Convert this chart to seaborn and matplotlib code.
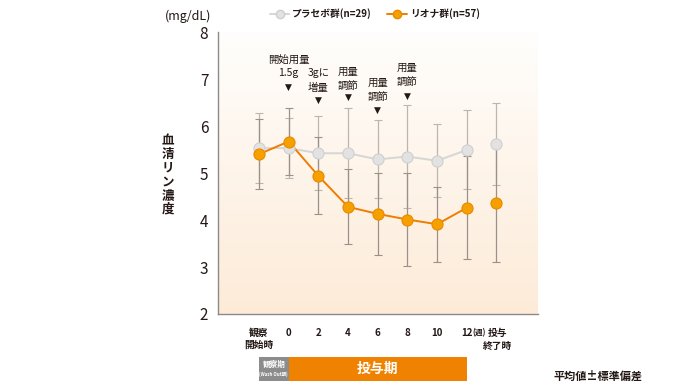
import numpy as np
import pandas as pd
import matplotlib
matplotlib.use("Agg")
from matplotlib import pyplot as plt
from matplotlib.patches import Rectangle
import matplotlib.transforms as mtransforms
import seaborn as sns

# data
positions = [0, 1, 2, 3, 4, 5, 6, 7, 8]
tick_labels = ["観察\n開始時", "0", "2", "4", "6", "8", "10", "12", "投与\n終了時"]
placebo_mean = [5.53, 5.53, 5.42, 5.42, 5.29, 5.35, 5.26, 5.49, 5.61]
placebo_sd = [0.74, 0.64, 0.79, 0.96, 0.83, 1.09, 0.78, 0.84, 0.87]
riona_mean = [5.40, 5.67, 4.94, 4.28, 4.13, 4.01, 3.91, 4.26, 4.36]
riona_sd = [0.75, 0.72, 0.82, 0.80, 0.88, 0.98, 0.80, 1.10, 1.25]
groups = ["プラセボ群(n=29)", "リオナ群(n=57)"]

dose_notes = [
    (1, ["開始用量", "1.5g"], [7.38, 7.13], 6.83),
    (2, ["3gに", "増量"], [7.13, 6.81], 6.55),
    (3, ["用量", "調節"], [7.15, 6.85], 6.60),
    (4, ["用量", "調節"], [6.91, 6.62], 6.34),
    (5, ["用量", "調節"], [7.23, 6.94], 6.64),
]

df = pd.DataFrame({
    "pos": positions * 2,
    "mean": placebo_mean + riona_mean,
    "sd": placebo_sd + riona_sd,
    "group": [groups[0]] * 9 + [groups[1]] * 9,
})

sns.set_style("white")
plt.rcParams["font.family"] = ["Noto Sans CJK JP", "DejaVu Sans"]
txt = "#231815"

fig = plt.figure(figsize=(7, 3.91), dpi=100)
ax = fig.add_axes([218 / 700, 1 - 314 / 391, 320 / 700, 282 / 391])

xlim = (-1.38, 9.40)
ylim = (2, 8)
grad = np.linspace(0, 1, 256).reshape(-1, 1)
cmap = matplotlib.colors.LinearSegmentedColormap.from_list("bg", ["#fdebd8", "#fffefc"])
ax.imshow(grad, aspect="auto", cmap=cmap, origin="lower",
          extent=[xlim[0], xlim[1], ylim[0], ylim[1]], zorder=0)

palette = {groups[0]: "#d6d6d6", groups[1]: "#ee7d00"}
face = {groups[0]: "#e2e2e2", groups[1]: "#f6a000"}
edge = {groups[0]: "#cfcfcf", groups[1]: "#e88a00"}
ebar = {groups[0]: "#bdb5ae", groups[1]: "#9c918a"}

for g in groups:
    d = df[df.group == g]
    ax.errorbar(d["pos"], d["mean"], yerr=d["sd"], fmt="none", ecolor=ebar[g],
                elinewidth=0.9, capsize=3, capthick=0.8, zorder=2)

main = df[df.pos <= 7]
sns.lineplot(data=main, x="pos", y="mean", hue="group", palette=palette,
             linewidth=1.4, legend=False, ax=ax, zorder=3)
for g, z in zip(groups, [4, 5]):
    d = df[df.group == g]
    ax.plot(d["pos"], d["mean"], linestyle="none", marker="o", markersize=8,
            markerfacecolor=face[g], markeredgecolor=edge[g], markeredgewidth=0.8,
            zorder=z)

# legend handles
for g in groups:
    ax.plot([], [], color=palette[g], linewidth=1.4, marker="o", markersize=6,
            markerfacecolor=face[g], markeredgecolor=edge[g], label=g)
leg = ax.legend(loc="lower center", bbox_to_anchor=(0.49, 1.015), ncol=2, frameon=False,
                fontsize=7, handlelength=2.0, handletextpad=0.3, columnspacing=1.6,
                labelcolor=txt)
for t in leg.get_texts():
    t.set_fontweight("bold")

ax.set_xlim(*xlim)
ax.set_ylim(*ylim)
ax.set_xticks(positions)
# last label is drawn by hand (two lines split) so "(週)" can sit beside it
ax.set_xticklabels(tick_labels[:-1] + [""], fontsize=7, color=txt, fontweight="bold",
                   linespacing=1.2)
ax.set_yticks([2, 3, 4, 5, 6, 7, 8])
ax.set_yticklabels(["2", "3", "4", "5", "6", "7", "8"], fontsize=11, color=txt)
ax.tick_params(axis="x", direction="out", length=4, width=0.8, color="#888888", pad=6)
ax.tick_params(axis="y", direction="out", length=5, width=0.8, color="#888888", pad=2)
ax.set_xlabel("")
ax.set_ylabel("")
for s in ["top", "right"]:
    ax.spines[s].set_visible(False)
for s in ["left", "bottom"]:
    ax.spines[s].set_color("#8a8a8a")
    ax.spines[s].set_linewidth(1.0)

tr = mtransforms.blended_transform_factory(ax.transData, ax.transAxes)
last_top, last_bottom = tick_labels[-1].split("\n")
ax.text(8.05, -0.049, last_top, transform=tr, fontsize=7, color=txt,
        fontweight="bold", ha="center", va="top")
ax.text(8.05, -0.097, last_bottom, transform=tr, fontsize=7, color=txt,
        fontweight="bold", ha="center", va="top")
ax.text(7.43, -0.049, "(週)", transform=tr, fontsize=5.5, color=txt,
        fontweight="bold", ha="center", va="top")

# dose notes
for x, lines, ys, ytri in dose_notes:
    for line, y in zip(lines, ys):
        ax.text(x, y, line, fontsize=7.5, color=txt, ha="center", va="center")
    ax.text(x, ytri, "▼", fontsize=6.5, color=txt, ha="center", va="center",
            family=["DejaVu Sans"])

fig.text(165 / 700, 1 - 16 / 391, "(mg/dL)", fontsize=9, color=txt, va="center", ha="left")
fig.text(168 / 700, 1 - 175 / 391, "\n".join("血清リン濃度"), fontsize=9, color=txt,
         fontweight="bold", ha="center", va="center", linespacing=1.05)

# period bar under axis
y0, y1 = -0.238, -0.152
ax.add_patch(Rectangle((0, y0), 1, y1 - y0, transform=tr, facecolor="#8c8c8c",
                       edgecolor="none", clip_on=False))
ax.add_patch(Rectangle((1, y0), 6, y1 - y0, transform=tr, facecolor="#ef8200",
                       edgecolor="none", clip_on=False))
ax.text(0.5, y0 + (y1 - y0) * 0.7, "観察期", transform=tr, fontsize=5.5, color="white",
        ha="center", va="center", fontweight="bold")
ax.text(0.5, y0 + (y1 - y0) * 0.28, "(Wash Out期)", transform=tr, fontsize=3.2, color="white",
        ha="center", va="center", fontweight="bold")
ax.text(4, (y0 + y1) / 2, "投与期", transform=tr, fontsize=10, color="white",
        ha="center", va="center", fontweight="bold")

fig.text(553 / 700, 1 - 376 / 391, "平均値±標準偏差", fontsize=8, color=txt,
         fontweight="bold", ha="left", va="center")

fig.savefig("out.png", dpi=100, facecolor="white")
